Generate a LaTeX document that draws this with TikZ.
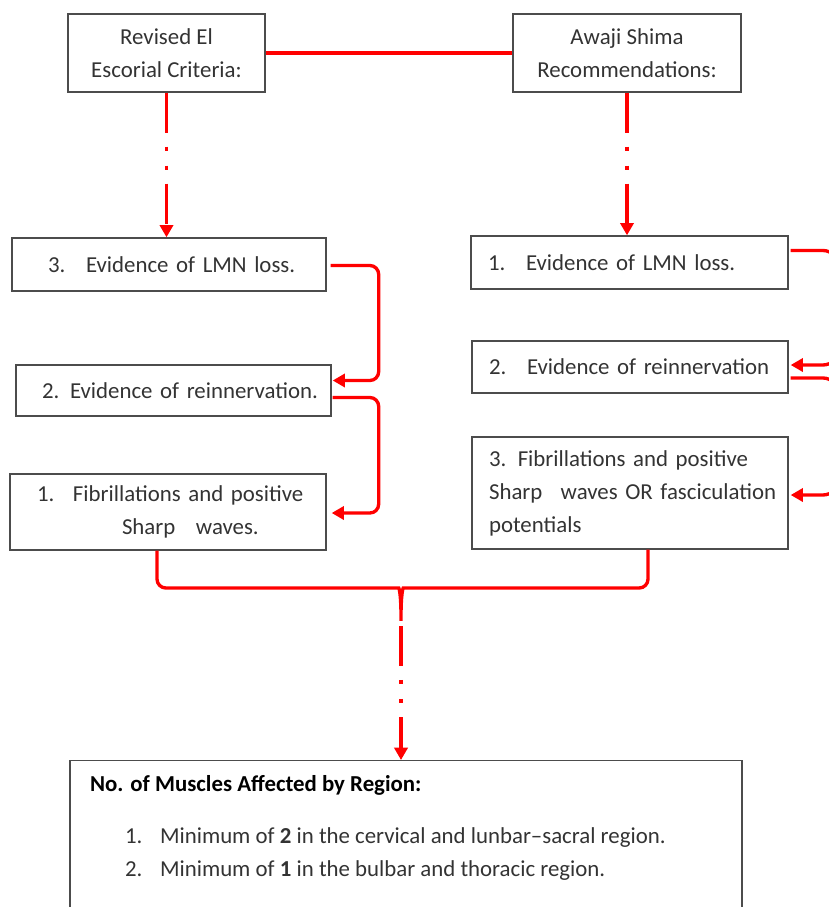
\documentclass[tikz,border=0pt]{standalone}
\usepackage{fontspec}
\setmainfont{Carlito}
\usetikzlibrary{arrows.meta,calc}

\begin{document}
\begin{tikzpicture}[
            x = 0.02cm, y = -0.02cm,
            every node/.style={text=black!80, font=\fontsize{13}{18.8}\selectfont},
            box/.style={draw=black!70, line width=0.8pt, inner sep=0pt},
            list/.style={box, align=left},
            link/.style={red, line width=1.9pt, rounded corners=5pt},
            tip/.style={-{Triangle[length=7pt, width=7.5pt]}},
            dashdot/.style={red, line width=1.9pt,
                dash pattern=on 22.7pt off 8pt on 2.3pt off 8.5pt on 2.3pt off 8pt},
            ]

        \clip (0, 0) rectangle (829, 907);

        % headers
        \node[box, minimum width=3.94cm, minimum height=1.56cm, align=center] (els) at (166.5, 53) {Revised El\\Escorial Criteria:};
        \node[box, minimum width=4.56cm, minimum height=1.56cm, align=center] (awaji) at (627, 53) {Awaji Shima\\Recommendations:};

        % left column
        \node[list, text width=6.28cm, minimum height=1.06cm] (l3) at (169, 264.5) {\hspace*{0.72cm}\makebox[0.76cm][l]{3.}Evidence of LMN loss.};
        \node[list, text width=6.30cm, minimum height=1.02cm] (l2) at (173.5, 390.5) {\hspace*{0.52cm}\makebox[0.56cm][l]{2.}Evidence of reinnervation.};
        \node[list, text width=6.32cm, minimum height=1.52cm] (l1) at (168, 512) {\hspace*{0.54cm}\makebox[0.72cm][l]{1.}Fibrillations and positive\\\hspace*{2.24cm}Sharp\hspace{0.9em}waves.};

        % right column
        \node[list, text width=6.34cm, minimum height=1.06cm] (r1) at (629.5, 262.5) {\hspace*{0.34cm}\makebox[0.76cm][l]{1.}Evidence of LMN loss.};
        \node[list, text width=6.32cm, minimum height=1.04cm] (r2) at (630, 367) {\hspace*{0.34cm}\makebox[0.76cm][l]{2.}Evidence of reinnervation};
        \node[list, text width=6.32cm, minimum height=2.24cm] (r3) at (630, 493) {\hspace*{0.34cm}3. Fibrillations and positive\\\hspace*{0.34cm}Sharp\hspace{0.8em}waves OR fasciculation\\\hspace*{0.34cm}potentials};

        % muscles
        \node[box, anchor=north, minimum width=13.44cm, inner xsep=0.4cm, inner ysep=0.3cm] (musc) at (406, 760) {\parbox[c][3.4cm][t]{12.64cm}{\textcolor{black}{\bfseries No. of Muscles Affected by Region:}\\[10.8pt]
            \hspace*{0.7cm}\makebox[0.7cm][l]{1.}Minimum of \textbf{2} in the cervical and lunbar--sacral region.\\
            \hspace*{0.7cm}\makebox[0.7cm][l]{2.}Minimum of \textbf{1} in the bulbar and thoracic region.}};

        \coordinate (brace) at (401, 626);

        \draw[link] (els.east) -- (awaji.west);
        \draw[dashdot, tip] (els.south) -- (els.south |- l3.north);
        \draw[dashdot, tip] (awaji.south) -- (awaji.south |- r1.north);

        \draw[link, tip] ($(l3.east)+(4, 1)$) -- ++(48, 0) |- ($(l2.east)+(1, -10)$);
        \draw[link, tip] ($(l2.east)+(1, 7)$) -- ++(46, 0) |- ($(l1.east)+(5, 1)$);
        \draw[link, tip, rounded corners=9pt] ($(r1.east)+(2, -12)$) -- ++(48, 0) |- ($(r2.east)+(2, -2)$);
        \draw[link, tip, rounded corners=9pt] ($(r2.east)+(2, 11)$) -- ++(48, 0) |- ($(r3.east)+(2, 2)$);

        \draw[link] ($(l1.south)+(-11, 0)$) |- (390, 588) .. controls (399, 588) and (401, 594) .. (brace)
            .. controls (401, 594) and (403, 588) .. (412, 588) -| ($(r3.south)+(18, 0)$);
        \draw[dashdot, tip] (brace) -- (brace |- musc.north);
    \end{tikzpicture}
\end{document}
